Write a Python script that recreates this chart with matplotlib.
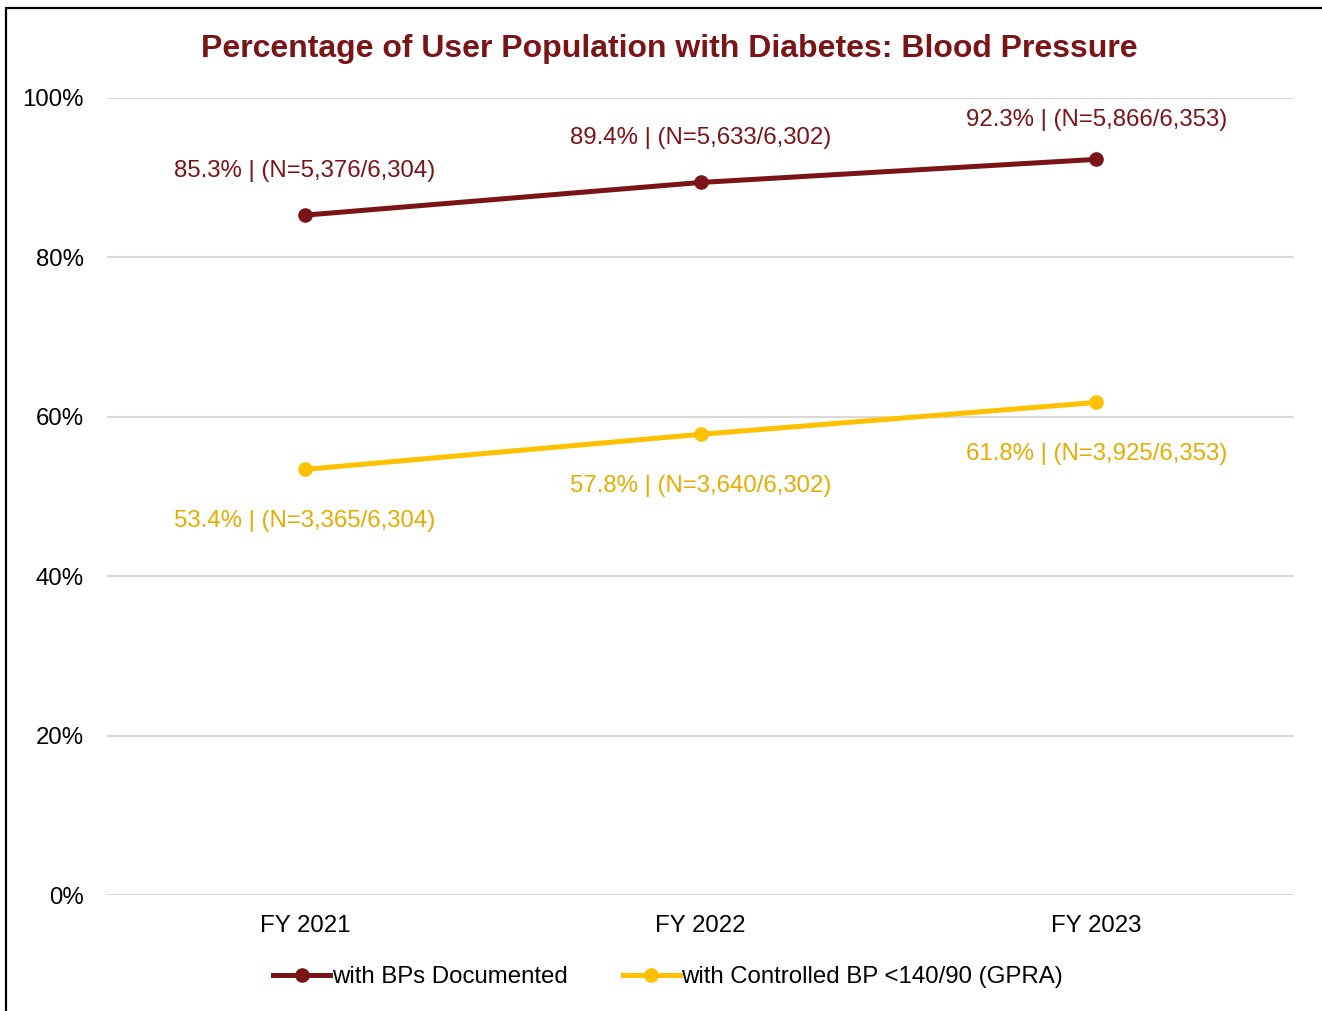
import matplotlib
matplotlib.use("Agg")
import matplotlib.pyplot as plt
from matplotlib.patches import Rectangle

plt.rcParams['font.family'] = ['Liberation Sans', 'DejaVu Sans']

years = ["FY 2021", "FY 2022", "FY 2023"]
documented = [85.3, 89.4, 92.3]
documented_n = ["5,376/6,304", "5,633/6,302", "5,866/6,353"]
controlled = [53.4, 57.8, 61.8]
controlled_n = ["3,365/6,304", "3,640/6,302", "3,925/6,353"]

dark_red = "#7B1416"
yellow = "#FFC000"
fs = 17.3

fig = plt.figure(figsize=(13.22, 10.11), dpi=100)
ax = fig.add_axes([107 / 1322, 1 - 895 / 1011, (1294 - 107) / 1322, (895 - 98) / 1011])

x = list(range(len(years)))
ax.plot(x, documented, color=dark_red, lw=3.6, marker="o", ms=9.5,
        label="with BPs Documented", zorder=3)
ax.plot(x, controlled, color=yellow, lw=3.6, marker="o", ms=9.5,
        label="with Controlled BP <140/90 (GPRA)", zorder=3)

# label offsets above the red points (last one sits a bit lower, like the original)
red_off = [32, 32, 28]
for i in x:
    ax.annotate("{:.1f}% | (N={})".format(documented[i], documented_n[i]),
                (i, documented[i]), xytext=(0, red_off[i]), textcoords="offset points",
                ha="center", va="center", color=dark_red, fontsize=fs)
    ax.annotate("{:.1f}% | (N={})".format(controlled[i], controlled_n[i]),
                (i, controlled[i]), xytext=(0, -37), textcoords="offset points",
                ha="center", va="center", color="#E6AC00", fontsize=fs)

ax.set_xlim(-0.5, 2.5)
ax.set_ylim(0, 100)
ax.set_yticks([0, 20, 40, 60, 80, 100])
ax.set_yticklabels(["{}%".format(v) for v in [0, 20, 40, 60, 80, 100]])
ax.set_xticks(x)
ax.set_xticklabels(years)
ax.tick_params(length=0, labelsize=fs, pad=14.5)
ax.tick_params(axis="y", pad=16.5)
ax.grid(axis="y", color="#D9D9D9", lw=1.5)
ax.set_axisbelow(True)
for s in ax.spines.values():
    s.set_visible(False)

fig.text(0.506, 1 - 49 / 1011, "Percentage of User Population with Diabetes: Blood Pressure",
         ha="center", va="center", fontsize=23, fontweight="bold", color=dark_red)

fig.legend(loc="center", bbox_to_anchor=(668 / 1322, 1 - 977 / 1011), ncol=2, frameon=False,
           fontsize=fs, handlelength=2.4, handletextpad=0.05, columnspacing=2.3)

fig.patches.append(Rectangle((6 / 1322, -0.1), 1.2, 1.1 - 8 / 1011, transform=fig.transFigure,
                             fill=False, ec="black", lw=1.6, clip_on=False))

fig.savefig("out.png", dpi=100)
